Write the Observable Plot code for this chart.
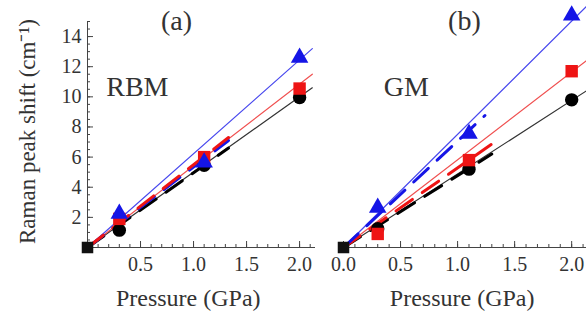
<!DOCTYPE html>
<html>
<head>
<meta charset="utf-8">
<script src="https://cdn.jsdelivr.net/npm/d3@7"></script>
<script src="https://cdn.jsdelivr.net/npm/@observablehq/plot@0.6"></script>
<style>
  html, body { margin: 0; padding: 0; background: #fff; }
  #wrap { position: relative; width: 586px; height: 326px; overflow: hidden; }
  #wrap svg { position: absolute; top: 0; overflow: visible; }
</style>
</head>
<body>
<div id="wrap"></div>
<script>
// ---- data ----
const pressure = [0, 0.3, 1.1, 2.0];
const rbmBlack = [0, 1.15, 5.45, 9.95];
const rbmRed   = [0, 1.9, 6.0, 10.55];
const rbmBlue  = [0, 2.25, 5.65, 12.6];
const gmBlack  = [0, 1.25, 5.2, 9.8];
const gmRed    = [0, 0.9, 5.8, 11.7];
const gmBlue   = [0, 2.65, 7.55, 15.4];

// linear fits (solid thin lines): pressure end points and values
const rbmFitP = [0, 2.12];
const rbmFitBlack = [0, 10.6];
const rbmFitRed   = [0, 11.5];
const rbmFitBlue  = [0, 13.2];
const gmFitP = [0, 2.13];
const gmFitBlack = [0, 10.4];
const gmFitRed   = [0, 12.4];
const gmFitBlue  = [0, 16.0];

// dashed (theory) lines: end pressure and value
const rbmDashP = [0, 1.33];
const rbmDashBlack = [0, 6.6];
const rbmDashRed   = [0, 7.3];
const rbmDashBlue  = [0, 7.1];
const gmDashBlackP = [0, 1.3];
const gmDashBlack  = [0, 6.2];
const gmDashRedP   = [0, 1.32];
const gmDashRed    = [0, 6.97];
const gmDashBlueP  = [0, 1.24];
const gmDashBlue   = [0, 8.76];

const yTickValues = [2, 4, 6, 8, 10, 12, 14];
const yMinor = d3.range(0, 15.01, 0.5);
const xTicksA = [0.5, 1.0, 1.5, 2.0];
const xTicksB = [0.0, 0.5, 1.0, 1.5, 2.0];
const xMinorA = d3.range(0, 2.151, 0.1);
const xMinorB = d3.range(0, 2.131, 0.1);

const colors = {black: "#000000", red: "#ee1414", blue: "#1515e6"};
const lineColors = {black: "#333333", red: "#f05050", blue: "#4848ee"};

function series(xs, ys, name) { return xs.map((x, i) => ({x, y: ys[i], name})); }

const FONT = "'Liberation Serif', 'Times New Roman', serif";
const TXT = "#333";

function panel({width, marginLeft, marginRight, xmax, pts, fits, dashes, xTicks, xMinor, showY, title, tag, tagX, titleX, xLabelX}) {
  const marks = [];
  marks.push(Plot.ruleY([0], {stroke: "#444", strokeWidth: 1}));
  marks.push(Plot.axisX(xMinor, {tickSize: -3, tickFormat: () => "", stroke: "#444", label: null}));
  marks.push(Plot.axisX(xTicks, {tickSize: -6, tickPadding: 15, tickFormat: d => d.toFixed(1), stroke: "#444", fill: TXT, fontSize: 20, fontFamily: FONT, label: null}));
  if (showY) {
    marks.push(Plot.ruleX([0], {stroke: "#444", strokeWidth: 1}));
    marks.push(Plot.axisY(yMinor, {tickSize: -3, tickFormat: () => "", stroke: "#444", label: null}));
    marks.push(Plot.axisY(yTickValues, {tickSize: -6, tickPadding: 12, stroke: "#444", fill: TXT, fontSize: 20, fontFamily: FONT, label: null}));
    marks.push(Plot.text(["Raman peak shift (cm\u207B\u00B9)"], {frameAnchor: "left", textAnchor: "middle", y: 7.7, dx: -60, rotate: -90, fontSize: 23, fontFamily: FONT, fill: TXT}));
  }
  for (const f of fits) marks.push(Plot.line(f.data, {x: "x", y: "y", stroke: lineColors[f.name], strokeWidth: 1.2}));
  for (const f of dashes) marks.push(Plot.line(f.data, {x: "x", y: "y", stroke: colors[f.name], strokeWidth: 3, strokeDasharray: "20,12"}));
  const nz = d => d.x !== 0;
  marks.push(Plot.dot(pts.black.filter(nz), {x: "x", y: "y", r: 6.7, fill: colors.black, symbol: "circle"}));
  marks.push(Plot.dot(pts.red.filter(nz), {x: "x", y: "y", r: 7, fill: colors.red, symbol: "square"}));
  marks.push(Plot.dot(pts.blue.filter(nz), {x: "x", y: "y", r: 6.5, fill: colors.blue, symbol: "triangle"}));
  // coincident points at zero pressure appear as one dark marker
  marks.push(Plot.dot(pts.black.filter(d => !nz(d)), {x: "x", y: "y", r: 6.5, fill: "#111", symbol: "square"}));
  marks.push(Plot.text([title], {x: titleX, y: 15.05, fontSize: 28, fontFamily: FONT, fill: TXT}));
  marks.push(Plot.text([tag], {x: tagX, y: 10.65, fontSize: 28, fontFamily: FONT, fill: TXT}));
  marks.push(Plot.text(["Pressure (GPa)"], {x: xLabelX, frameAnchor: "bottom", dy: 58, fontSize: 24, fontFamily: FONT, fill: TXT}));
  return Plot.plot({
    width, height: 326,
    marginLeft, marginRight, marginTop: 21, marginBottom: 79,
    x: {domain: [0, xmax], axis: null},
    y: {domain: [0, 15], axis: null},
    style: {fontFamily: FONT, background: "transparent", overflow: "visible"},
    marks
  });
}

const plotA = panel({
  width: 320, marginLeft: 87, marginRight: 5, xmax: 2.15,
  pts: {black: series(pressure, rbmBlack), red: series(pressure, rbmRed), blue: series(pressure, rbmBlue)},
  fits: [
    {name: "black", data: series(rbmFitP, rbmFitBlack)},
    {name: "red", data: series(rbmFitP, rbmFitRed)},
    {name: "blue", data: series(rbmFitP, rbmFitBlue)}
  ],
  dashes: [
    {name: "black", data: series(rbmDashP, rbmDashBlack)},
    {name: "blue", data: series(rbmDashP, rbmDashBlue)},
    {name: "red", data: series(rbmDashP, rbmDashRed)}
  ],
  xTicks: xTicksA, xMinor: xMinorA, showY: true,
  title: "(a)", tag: "RBM", titleX: 0.84, tagX: 0.47, xLabelX: 0.95
});
plotA.style.left = "0px";

const plotB = panel({
  width: 266, marginLeft: 23, marginRight: 0, xmax: 2.13,
  pts: {black: series(pressure, gmBlack), red: series(pressure, gmRed), blue: series(pressure, gmBlue)},
  fits: [
    {name: "black", data: series(gmFitP, gmFitBlack)},
    {name: "red", data: series(gmFitP, gmFitRed)},
    {name: "blue", data: series(gmFitP, gmFitBlue)}
  ],
  dashes: [
    {name: "black", data: series(gmDashBlackP, gmDashBlack)},
    {name: "red", data: series(gmDashRedP, gmDashRed)},
    {name: "blue", data: series(gmDashBlueP, gmDashBlue)}
  ],
  xTicks: xTicksB, xMinor: xMinorB, showY: false,
  title: "(b)", tag: "GM", titleX: 1.06, tagX: 0.55, xLabelX: 1.04
});
plotB.style.left = "320px";

const wrap = document.getElementById("wrap");
wrap.appendChild(plotA);
wrap.appendChild(plotB);
</script>
</body>
</html>
